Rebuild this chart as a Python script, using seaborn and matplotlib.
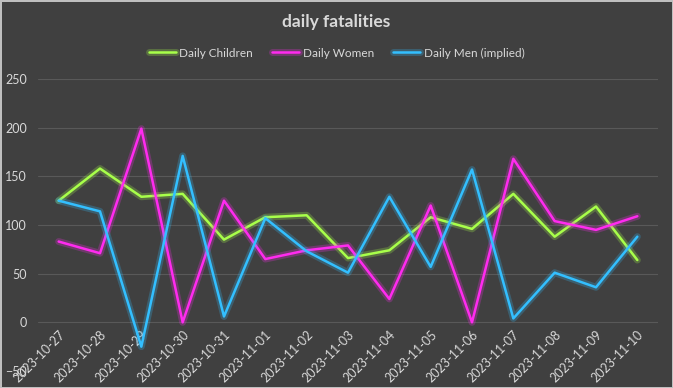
# daily fatalities - line chart, dark style
import pandas as pd
import matplotlib.pyplot as plt
import matplotlib.patheffects as pe
import seaborn as sns

# Datos
dates = ['2023-10-27', '2023-10-28', '2023-10-29', '2023-10-30', '2023-10-31',
         '2023-11-01', '2023-11-02', '2023-11-03', '2023-11-04', '2023-11-05',
         '2023-11-06', '2023-11-07', '2023-11-08', '2023-11-09', '2023-11-10']
children = [125, 158, 129, 132, 85, 108, 110, 66, 74, 108, 96, 132, 88, 119, 64]
women = [83, 71, 199, 0, 125, 65, 74, 79, 24, 120, 0, 168, 104, 95, 109]
men = [125, 114, -25, 171, 6, 107, 73, 51, 129, 57, 157, 4, 51, 36, 88]

series_names = ['Daily Children', 'Daily Women', 'Daily Men (implied)']
colors = ['#A8FF4A', '#FF2BEF', '#33BFFF']

df = pd.DataFrame({'idx': range(len(dates)), 'date': dates,
                   series_names[0]: children, series_names[1]: women, series_names[2]: men})
long_df = df.melt(id_vars=['idx', 'date'], var_name='series', value_name='value')

bg = '#404040'
txt = '#D9D9D9'
sns.set_theme(style='dark')
plt.rcParams['font.family'] = ['Lato', 'DejaVu Sans']

fig = plt.figure(figsize=(6.73, 3.88), dpi=100, facecolor=bg)
fig.patch.set_edgecolor('#BFBFBF')
fig.patch.set_linewidth(1)
ax = fig.add_axes([38 / 673, 17 / 388, 620 / 673, 292 / 388])
ax.set_facecolor(bg)

sns.lineplot(data=long_df, x='idx', y='value', hue='series', hue_order=series_names,
             palette=colors, linewidth=1.8, ax=ax)

# efecto de brillo en las líneas
for line, c in zip(ax.get_lines(), colors):
    line.set_path_effects([pe.Stroke(linewidth=5, foreground=c, alpha=0.25), pe.Normal()])

handles, labels = ax.get_legend_handles_labels()
ax.get_legend().remove()
for h in handles:
    h.set_path_effects([pe.Stroke(linewidth=5, foreground=h.get_color(), alpha=0.25), pe.Normal()])

# eje x cruzando en 0 (primero, porque reinicia los ticks)
for side in ['top', 'right', 'left']:
    ax.spines[side].set_visible(False)
ax.spines['bottom'].set_position(('data', 0))
ax.spines['bottom'].set_color('none')

ax.set_xlim(-0.5, len(dates) - 0.5)
ax.set_ylim(-50, 250)
ax.set_yticks(range(-50, 251, 50))
ax.set_xticks(range(len(dates)))
ax.set_xticklabels(dates)
ax.set_xlabel('')
ax.set_ylabel('')

ax.yaxis.grid(True, color='#595959', linewidth=0.8)
ax.xaxis.grid(False)
ax.get_ygridlines()[0].set_visible(False)
ax.set_axisbelow(True)

ax.tick_params(axis='y', length=0, pad=8, labelcolor=txt, labelsize=9)
ax.tick_params(axis='x', length=0, pad=4, labelcolor=txt, labelsize=9)
plt.setp(ax.get_xticklabels(), rotation=45, ha='right', rotation_mode='anchor')

fig.text(0.5, 1 - 22 / 388, 'daily fatalities', ha='center', va='center',
         color=txt, fontsize=12.5, fontweight='bold')
fig.legend(handles, labels, loc='center', bbox_to_anchor=(0.5, 1 - 53 / 388), ncol=3,
           frameon=False, fontsize=8.5, labelcolor=txt, handlelength=2.3,
           handletextpad=0.3, columnspacing=1.6)

fig.savefig('out.png', dpi=100, facecolor=bg)
